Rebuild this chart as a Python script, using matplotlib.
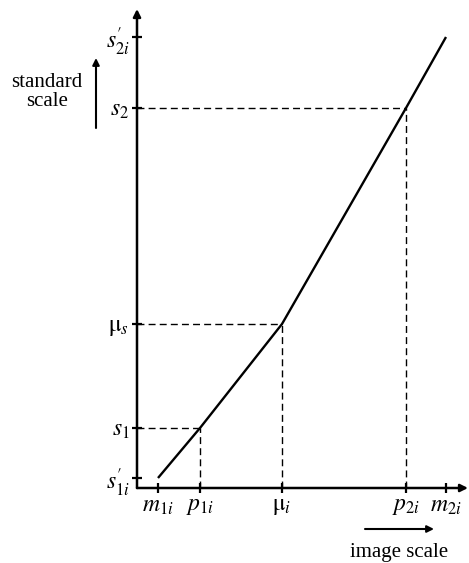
import matplotlib
matplotlib.use("Agg")
import matplotlib.pyplot as plt

plt.rcParams['mathtext.fontset'] = 'stix'
plt.rcParams['font.family'] = ['Liberation Serif', 'DejaVu Serif']

# Data (image-scale positions and standard-scale values, arbitrary units)
x_labels = [r'$m_{1i}$', r'$p_{1i}$', r'$\mathrm{\mu}_i$', r'$p_{2i}$', r'$m_{2i}$']
x_values = [21, 63, 145, 269, 309]
y_labels = [r"$s_{1i}^{\prime}$", r'$s_1$', r'$\mathrm{\mu}_s$', r'$s_2$', r"$s_{2i}^{\prime}$"]
y_values = [10, 60, 164, 380, 451]
# mapping curve points (image value -> standard value)
curve_x = [21, 63, 145, 269, 309]
curve_y = [10, 60, 164, 380, 451]
# points with dashed guide lines
guide_idx = [1, 2, 3]

W, H = 469, 563
fig = plt.figure(figsize=(W / 100, H / 100), dpi=100)
ax = fig.add_axes([137 / W, (H - 488) / H, 331 / W, 479 / H])
ax.set_xlim(0, 331)
ax.set_ylim(0, 479)
for s in ax.spines.values():
    s.set_visible(False)

# axes with arrows
arrow_kw = dict(arrowstyle='-|>', lw=1.8, color='black', mutation_scale=11,
                shrinkA=0, shrinkB=0)
ax.annotate('', xy=(0, 479), xytext=(0, 0), arrowprops=arrow_kw,
            annotation_clip=False)
ax.annotate('', xy=(331, 0), xytext=(0, 0), arrowprops=arrow_kw,
            annotation_clip=False)

# curve
ax.plot(curve_x, curve_y, color='black', lw=1.7, solid_capstyle='butt',
        clip_on=False)

# dashed guides
for i in guide_idx:
    ax.plot([0, curve_x[i]], [curve_y[i], curve_y[i]], color='black', lw=1.0,
            dashes=(5, 3), clip_on=False)
    ax.plot([curve_x[i], curve_x[i]], [0, curve_y[i]], color='black', lw=1.0,
            dashes=(5, 3), clip_on=False)

# ticks
ax.set_xticks(x_values)
ax.set_xticklabels(x_labels, fontsize=17)
ax.set_yticks(y_values)
ax.set_yticklabels(y_labels, fontsize=17)
ax.tick_params(axis='both', direction='inout', length=7, width=1.6,
               color='black')
ax.tick_params(axis='x', pad=2)
ax.tick_params(axis='y', pad=2)

# axis captions with arrows
cap_kw = dict(arrowstyle='-|>', lw=1.5, color='black', mutation_scale=10,
              shrinkA=0, shrinkB=0)
ax.annotate('', xy=(-41, 430), xytext=(-41, 360), arrowprops=cap_kw,
            annotation_clip=False)
ax.text(-90, 396, 'standard\nscale', ha='center', va='center',
        fontsize=15, linespacing=0.95, multialignment='center')
ax.annotate('', xy=(297, -41), xytext=(228, -41), arrowprops=cap_kw,
            annotation_clip=False)
ax.text(262, -64, 'image scale', ha='center', va='center', fontsize=15)

fig.savefig('out.png', dpi=100)
